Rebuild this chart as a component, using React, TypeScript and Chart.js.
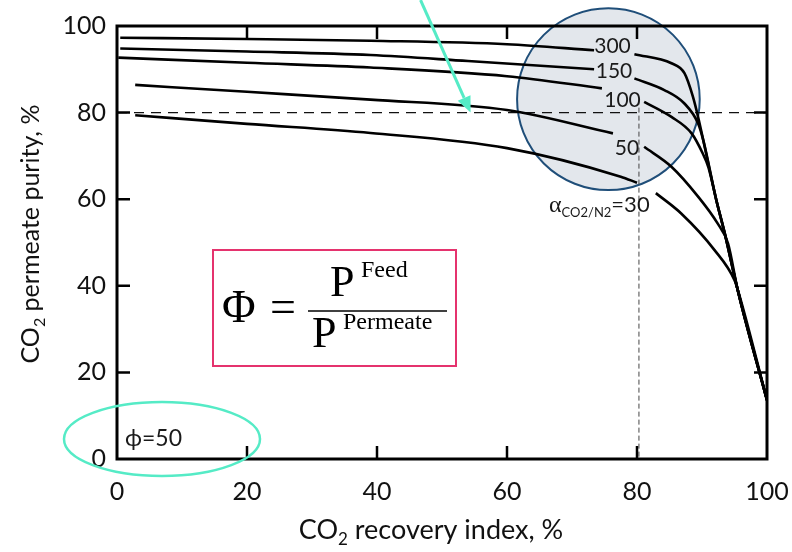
import { useEffect, useRef } from "react";
import { Chart, registerables } from "chart.js";

Chart.register(...registerables);

// Axis ticks (percent)
const xTickValues = [0, 20, 40, 60, 80, 100];
const yTickValues = [0, 20, 40, 60, 80, 100];
const innerTicks = [20, 40, 60, 80];

// Membrane selectivity values (alpha CO2/N2) for each curve
const alphaLabels = ["300", "150", "100", "50", "30"];

// CO2 recovery index (%) and permeate purity (%) for each selectivity; null breaks the line at its label
const recovery300 = [0.5, 20, 39, 60, 73.4, 76.5, 79.6, 85.3, 87.3, 88.6, 89.4, 92.2, 93.5, 95.5, 100];
const purity300 = [97.3, 97.0, 96.6, 95.8, 94.4, null, 93.5, 91.4, 89.1, 83.7, 79.0, 59.8, 52.1, 39.0, 13.6];

const recovery150 = [0.5, 20, 39, 54, 73.4, 76.5, 79.6, 84.2, 87.3, 89.4, 90.2, 92.2, 93.5, 95.5, 100];
const purity150 = [94.8, 94.1, 93.3, 91.9, 90.0, null, 87.9, 85.2, 82.1, 77.5, 73.6, 59.8, 52.1, 39.0, 13.6];

const recovery100 = [0.2, 20, 39, 60, 74.6, 78, 81.1, 85.3, 88.4, 90.1, 91.0, 92.2, 93.5, 95.5, 100];
const purity100 = [92.7, 91.5, 90.4, 88.4, 85.6, null, 82.5, 79.0, 75.2, 70.6, 67.3, 59.8, 52.1, 39.0, 13.6];

const recovery50 = [2.8, 20, 39, 60, 76.3, 78.5, 81.1, 85.3, 89.4, 92.4, 94.0, 95.5, 100];
const purity50 = [86.4, 84.8, 83.0, 80.6, 75.2, null, 72.1, 67.5, 60.6, 54.4, 49.8, 39.0, 13.6];

const recovery30 = [2.8, 20, 39, 60, 77.5, 80.0, 81.5, 82.9, 86.8, 91.9, 95.0, 95.6, 100];
const purity30 = [79.4, 77.4, 75.3, 71.8, 65.2, 63.8, null, 61.4, 56.7, 48.3, 41.3, 38.6, 13.6];

// Reference lines: target purity and the matching recovery
const targetPurity = 80;
const targetRecovery = 80.3;
const targetRecoveryTop = 83;

// Pressure ratio noted in the corner
const phiValue = 50;

// Highlighted zone (centre and half-widths in axis units)
const zoneCenter = { x: 75.6, y: 83.1 };
const zoneRadius = { x: 14.05, y: 21 };

// Arrow pointing at the 80 % purity crossing of alpha = 50
const arrowFrom = { x: 46.7, y: 106 };
const arrowTo = { x: 54.4, y: 80 };

const SANS = "Lato, 'Open Sans', sans-serif";
const SERIF = "'Liberation Serif', 'DejaVu Serif', serif";
const CYAN = "#55EBC6";

function toPoints(xs: number[], ys: (number | null)[]) {
  return xs.map((x, i) => ({ x, y: ys[i] }));
}

type Run = { t: string; font: string; dy?: number };

function drawRuns(ctx: CanvasRenderingContext2D, runs: Run[], x: number, y: number, align: "left" | "center") {
  let total = 0;
  for (const r of runs) {
    ctx.font = r.font;
    total += ctx.measureText(r.t).width;
  }
  let cx = align === "center" ? x - total / 2 : x;
  ctx.textAlign = "left";
  for (const r of runs) {
    ctx.font = r.font;
    ctx.fillText(r.t, cx, y + (r.dy || 0));
    cx += ctx.measureText(r.t).width;
  }
}

const decorPlugin = {
  id: "decor",
  beforeDraw(chart: any) {
    const { ctx, scales } = chart;
    const xs = scales.x;
    const ys = scales.y;
    const cx = xs.getPixelForValue(zoneCenter.x);
    const cy = ys.getPixelForValue(zoneCenter.y);
    const rx = xs.getPixelForValue(zoneCenter.x + zoneRadius.x) - cx;
    const ry = cy - ys.getPixelForValue(zoneCenter.y + zoneRadius.y);
    ctx.save();
    ctx.beginPath();
    ctx.ellipse(cx, cy, rx, ry, 0, 0, Math.PI * 2);
    ctx.fillStyle = "#E3E7EC";
    ctx.fill();
    ctx.lineWidth = 2;
    ctx.strokeStyle = "#1F4E79";
    ctx.stroke();
    ctx.restore();
  },
  beforeDatasetsDraw(chart: any) {
    const { ctx, chartArea: a, scales } = chart;
    const xs = scales.x;
    const ys = scales.y;
    ctx.save();
    // horizontal target-purity line
    ctx.strokeStyle = "#111";
    ctx.lineWidth = 1.2;
    ctx.setLineDash([10, 7]);
    const py = ys.getPixelForValue(targetPurity);
    ctx.beginPath();
    ctx.moveTo(a.left, py);
    ctx.lineTo(a.right, py);
    ctx.stroke();
    // vertical recovery line
    ctx.strokeStyle = "#444";
    ctx.lineWidth = 1;
    ctx.setLineDash([5, 3]);
    const px = xs.getPixelForValue(targetRecovery);
    ctx.beginPath();
    ctx.moveTo(px, ys.getPixelForValue(targetRecoveryTop));
    ctx.lineTo(px, a.bottom);
    ctx.stroke();
    ctx.setLineDash([]);
    // frame
    ctx.strokeStyle = "#000";
    ctx.lineWidth = 3;
    ctx.strokeRect(a.left, a.top, a.right - a.left, a.bottom - a.top);
    // inward ticks on all four sides
    const len = 13;
    ctx.lineWidth = 2.5;
    ctx.beginPath();
    for (const v of innerTicks) {
      const tx = xs.getPixelForValue(v);
      ctx.moveTo(tx, a.bottom);
      ctx.lineTo(tx, a.bottom - len);
      ctx.moveTo(tx, a.top);
      ctx.lineTo(tx, a.top + len);
      const ty = ys.getPixelForValue(v);
      ctx.moveTo(a.left, ty);
      ctx.lineTo(a.left + len, ty);
      ctx.moveTo(a.right, ty);
      ctx.lineTo(a.right - len, ty);
    }
    ctx.stroke();
    ctx.restore();
  },
  afterDatasetsDraw(chart: any) {
    const { ctx, scales } = chart;
    const xs = scales.x;
    const ys = scales.y;
    ctx.save();
    ctx.fillStyle = "#1a1a1a";
    ctx.textBaseline = "alphabetic";

    // curve labels
    ctx.font = `21px ${SANS}`;
    ctx.textAlign = "center";
    ctx.fillText(alphaLabels[0], 612.5, 53);
    ctx.fillText(alphaLabels[1], 614, 78);
    ctx.fillText(alphaLabels[2], 622.5, 107);
    ctx.fillText(alphaLabels[3], 627, 155);
    drawRuns(
      ctx,
      [
        { t: "α", font: `24px ${SERIF}` },
        { t: "CO2/N2", font: `13px ${SANS}`, dy: 5 },
        { t: "=" + alphaLabels[4], font: `22px ${SANS}` },
      ],
      549,
      212,
      "left"
    );

    // phi note
    drawRuns(ctx, [{ t: "ϕ=" + phiValue, font: `23px ${SANS}` }], 125, 446, "left");

    // formula box
    ctx.strokeStyle = "#E5336E";
    ctx.lineWidth = 2;
    ctx.strokeRect(213, 250, 243, 116);
    ctx.fillStyle = "#000";
    ctx.textAlign = "left";
    ctx.font = `46px ${SERIF}`;
    ctx.fillText("Φ", 222, 322);
    ctx.fillText("=", 270, 322);
    ctx.font = `44px ${SERIF}`;
    ctx.fillText("P", 330, 296);
    ctx.fillText("P", 312, 347);
    ctx.font = `24px ${SERIF}`;
    ctx.fillText("Feed", 361, 277);
    ctx.fillText("Permeate", 343, 329);
    ctx.lineWidth = 1.6;
    ctx.strokeStyle = "#000";
    ctx.beginPath();
    ctx.moveTo(308, 311);
    ctx.lineTo(447, 311);
    ctx.stroke();

    // corner ellipse
    ctx.strokeStyle = CYAN;
    ctx.lineWidth = 2.5;
    ctx.beginPath();
    ctx.ellipse(162, 439, 98, 37, 0, 0, Math.PI * 2);
    ctx.stroke();

    // arrow
    const ax0 = xs.getPixelForValue(arrowFrom.x);
    const ay0 = ys.getPixelForValue(arrowFrom.y);
    const ax1 = xs.getPixelForValue(arrowTo.x);
    const ay1 = ys.getPixelForValue(arrowTo.y);
    const ang = Math.atan2(ay1 - ay0, ax1 - ax0);
    const headLen = 16;
    const headHalf = 7;
    const bx = ax1 - headLen * Math.cos(ang);
    const by = ay1 - headLen * Math.sin(ang);
    ctx.strokeStyle = CYAN;
    ctx.fillStyle = CYAN;
    ctx.lineWidth = 3;
    ctx.beginPath();
    ctx.moveTo(ax0, ay0);
    ctx.lineTo(bx, by);
    ctx.stroke();
    ctx.beginPath();
    ctx.moveTo(ax1, ay1);
    ctx.lineTo(bx + headHalf * Math.sin(ang), by - headHalf * Math.cos(ang));
    ctx.lineTo(bx - headHalf * Math.sin(ang), by + headHalf * Math.cos(ang));
    ctx.closePath();
    ctx.fill();

    // axis titles
    ctx.fillStyle = "#111";
    drawRuns(
      ctx,
      [
        { t: "CO", font: `27px ${SANS}` },
        { t: "2", font: `17px ${SANS}`, dy: 6 },
        { t: " recovery index, %", font: `27px ${SANS}` },
      ],
      431,
      539,
      "center"
    );
    ctx.save();
    ctx.translate(39, 234);
    ctx.rotate(-Math.PI / 2);
    drawRuns(
      ctx,
      [
        { t: "CO", font: `25px ${SANS}` },
        { t: "2", font: `16px ${SANS}`, dy: 6 },
        { t: " permeate purity, %", font: `25px ${SANS}` },
      ],
      0,
      0,
      "center"
    );
    ctx.restore();
    ctx.restore();
  },
};

export default function App() {
  const canvasRef = useRef<HTMLCanvasElement | null>(null);

  useEffect(() => {
    const canvas = canvasRef.current;
    if (!canvas) return;
    const series = [
      toPoints(recovery300, purity300),
      toPoints(recovery150, purity150),
      toPoints(recovery100, purity100),
      toPoints(recovery50, purity50),
      toPoints(recovery30, purity30),
    ];
    const chart = new Chart(canvas, {
      type: "line",
      data: {
        datasets: series.map((pts, i) => ({
          label: alphaLabels[i],
          data: pts as any,
          borderColor: "#000",
          borderWidth: 2.6,
          pointRadius: 0,
          fill: false,
          cubicInterpolationMode: "monotone" as const,
          spanGaps: false,
        })),
      },
      options: {
        responsive: false,
        animation: false,
        events: [],
        layout: { padding: { top: 26, right: 25, left: 0, bottom: 0 } },
        plugins: { legend: { display: false }, tooltip: { enabled: false }, title: { display: false } },
        scales: {
          x: {
            type: "linear",
            min: 0,
            max: 100,
            afterFit: (s: any) => {
              s.height = 93;
              s.paddingLeft = 0;
              s.paddingRight = 0;
            },
            afterBuildTicks: (s: any) => {
              s.ticks = xTickValues.map((v) => ({ value: v }));
            },
            grid: { display: false, drawTicks: false },
            border: { display: false },
            ticks: { padding: 18, color: "#111", font: { family: SANS, size: 25 } },
          },
          y: {
            type: "linear",
            min: 0,
            max: 100,
            afterFit: (s: any) => {
              s.width = 117;
              s.paddingTop = 0;
              s.paddingBottom = 0;
            },
            afterBuildTicks: (s: any) => {
              s.ticks = yTickValues.map((v) => ({ value: v }));
            },
            grid: { display: false, drawTicks: false },
            border: { display: false },
            ticks: { padding: 11, color: "#111", font: { family: SANS, size: 25 } },
          },
        },
      },
      plugins: [decorPlugin],
    });
    return () => chart.destroy();
  }, []);

  return (
    <div style={{ position: "fixed", left: 0, top: 0, width: 792, height: 552, background: "#fff" }}>
      <canvas ref={canvasRef} width={792} height={552} style={{ display: "block" }} />
    </div>
  );
}
